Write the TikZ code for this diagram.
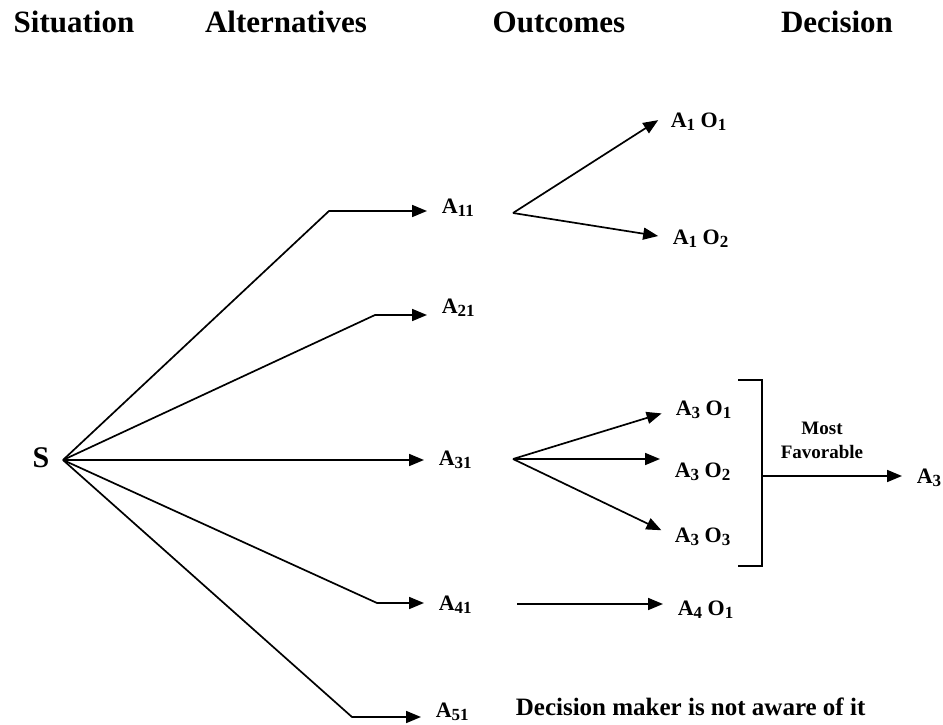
\documentclass[tikz,border=0pt]{standalone}
\usepackage{fontspec}
\setmainfont{Liberation Serif}
\usetikzlibrary{arrows.meta,positioning}
\newcommand{\subx}[1]{\raisebox{-3pt}{\fontsize{17}{17}\selectfont #1}}

\begin{document}
\begin{tikzpicture}[
  x=1pt, y=-1pt,
  >={Triangle[length=15pt,width=12pt]},
  head/.style={font=\bfseries\fontsize{31}{36}\selectfont, anchor=base, inner sep=0pt},
  lab/.style={font=\bfseries\fontsize{22}{26}\selectfont, anchor=base west, inner sep=0pt},
  note/.style={font=\bfseries\fontsize{19}{24}\selectfont, align=center, inner sep=0pt},
  arr/.style={->, shorten >=14pt},
  every path/.style={line width=1.7pt}
]
\useasboundingbox (0,0) rectangle (943,725);

% column heads
\node[head] (hsit) at (74,33) {Situation};
\node[head] (halt) at (286,33) {Alternatives};
\node[head] (hout) at (559,33) {Outcomes};
\node[head] (hdec) at (837,33) {Decision};

% situation and alternatives
\node[font=\bfseries\fontsize{30}{34}\selectfont, anchor=base, inner sep=0pt] (S) at (41,467) {S};
\coordinate (root) at (63,460);
\node[lab] (A11) at (441,213) {A\subx{11}};
\node[lab] (A21) at (441,313) {A\subx{21}};
\node[lab] (A31) at (438,465) {A\subx{31}};
\node[lab] (A41) at (438,610) {A\subx{41}};
\node[lab] (A51) at (435,717) {A\subx{51}};

\coordinate (e11) at (329,211);
\coordinate (e21) at (375,315);
\coordinate (e41) at (377,603);
\coordinate (e51) at (352,717);

\draw[arr] (root) -- (e11) -- (e11 -| A11.west);
\draw[arr] (root) -- (e21) -- (e21 -| A21.west);
\draw[arr] (root) -- (A31.west |- root);
\draw[arr] (root) -- (e41) -- (e41 -| A41.west);
\draw[arr] (root) -- (e51) -- (e51 -| A51.west);

% outcomes
\node[lab] (A1O1) at (670,128) {A\subx{1} O\subx{1}};
\node[lab] (A1O2) at (672,244) {A\subx{1} O\subx{2}};
\node[lab] (A3O1) at (675,415) {A\subx{3} O\subx{1}};
\node[lab] (A3O2) at (674,477) {A\subx{3} O\subx{2}};
\node[lab] (A3O3) at (674,542) {A\subx{3} O\subx{3}};
\node[lab] (A4O1) at (677,615) {A\subx{4} O\subx{1}};

\coordinate (f11) at (513,213);
\coordinate (f31) at (513,459);
\coordinate (f41) at (517,604);

\draw[arr] (f11) -- (A1O1.north west);
\draw[arr] (f11) -- (A1O2.west);
\draw[arr] (f31) -- (A3O1.west);
\draw[arr] (f31) -- (f31 -| A3O2.west);
\draw[arr] (f31) -- (A3O3.west);
\draw[arr] (f41) -- (f41 -| A4O1.west);

% decision
\coordinate (bt) at (762,380);
\coordinate (bb) at (762,566);
\coordinate (dec) at (762,476);
\draw ([xshift=-24pt]bt) -- (bt) -- (bb) -- ([xshift=-24pt]bb);
\node[lab] (A3) at (916,483) {A\subx{3}};
\draw[arr] (dec) -- (dec -| A3.west);
\node[note] (fav) at (822,440) {Most\\Favorable};

\node[font=\bfseries\fontsize{25}{30}\selectfont, anchor=base west, inner sep=0pt] (unaware) at (515,715) {Decision maker is not aware of it};
\end{tikzpicture}
\end{document}
